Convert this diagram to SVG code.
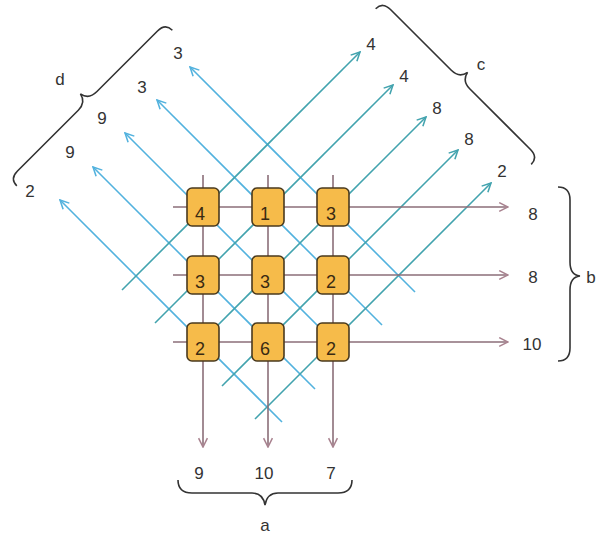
<svg xmlns="http://www.w3.org/2000/svg" width="597" height="537" viewBox="0 0 597 537">
<style>
.lbl{font-family:"Liberation Sans",Arial,sans-serif;font-size:17px;fill:#333;text-anchor:middle}
.num{font-family:"Liberation Sans",Arial,sans-serif;font-size:18px;fill:#3a2a12;text-anchor:middle}
.box{fill:#f6bb4a;stroke:#4a3a1e;stroke-width:1.6}
.hv{stroke:#8b6e78;stroke-width:1.6;fill:none}
.nw{stroke:#52b2de;stroke-width:1.6;fill:none}
.ne{stroke:#42a3ae;stroke-width:1.6;fill:none}
.brace{stroke:#333;stroke-width:1.6;fill:none}
</style>
<defs>
<marker id="mHV" viewBox="0 0 10 10" refX="9" refY="5" markerWidth="11" markerHeight="11" markerUnits="userSpaceOnUse" orient="auto"><path d="M1,1 L9,5 L1,9" fill="none" stroke="#a98390" stroke-width="1.4"/></marker>
<marker id="mNW" viewBox="0 0 10 10" refX="9" refY="5" markerWidth="11" markerHeight="11" markerUnits="userSpaceOnUse" orient="auto"><path d="M1,1 L9,5 L1,9" fill="none" stroke="#52b2de" stroke-width="1.4"/></marker>
<marker id="mNE" viewBox="0 0 10 10" refX="9" refY="5" markerWidth="11" markerHeight="11" markerUnits="userSpaceOnUse" orient="auto"><path d="M1,1 L9,5 L1,9" fill="none" stroke="#42a3ae" stroke-width="1.4"/></marker>
<path id="br" d="M-110,10 Q-110,0 -99,0 L-13,0 Q-2,0 0,-10 Q2,0 13,0 L99,0 Q110,0 110,10"/>
</defs>
<g id="connectors">
<g id="nw-lines">
<line class="nw" x1="415" y1="292" x2="190" y2="67" marker-end="url(#mNW)"/>
<line class="nw" x1="382" y1="325" x2="157" y2="100" marker-end="url(#mNW)"/>
<line class="nw" x1="333" y1="341" x2="125" y2="133" marker-end="url(#mNW)"/>
<line class="nw" x1="315" y1="389" x2="93" y2="167" marker-end="url(#mNW)"/>
<line class="nw" x1="282" y1="422" x2="60" y2="200" marker-end="url(#mNW)"/>
</g>
<g id="ne-lines">
<line class="ne" x1="122" y1="290" x2="360" y2="52" marker-end="url(#mNE)"/>
<line class="ne" x1="155" y1="323" x2="393" y2="85" marker-end="url(#mNE)"/>
<line class="ne" x1="203" y1="340" x2="426" y2="117" marker-end="url(#mNE)"/>
<line class="ne" x1="222" y1="386" x2="458" y2="150" marker-end="url(#mNE)"/>
<line class="ne" x1="255" y1="419" x2="491" y2="183" marker-end="url(#mNE)"/>
</g>
<g id="hv-lines">
<line class="hv" x1="173" y1="207" x2="508" y2="207" marker-end="url(#mHV)"/>
<line class="hv" x1="173" y1="275" x2="508" y2="275" marker-end="url(#mHV)"/>
<line class="hv" x1="173" y1="342" x2="508" y2="342" marker-end="url(#mHV)"/>
<line class="hv" x1="203" y1="175" x2="203" y2="447" marker-end="url(#mHV)"/>
<line class="hv" x1="268" y1="175" x2="268" y2="447" marker-end="url(#mHV)"/>
<line class="hv" x1="333" y1="175" x2="333" y2="447" marker-end="url(#mHV)"/>
</g>
</g>
<g id="n11"><rect class="box" x="187" y="188" width="32" height="38" rx="5"/><text class="num" x="200" y="220">4</text></g>
<g id="n12"><rect class="box" x="252" y="188" width="32" height="38" rx="5"/><text class="num" x="265" y="220">1</text></g>
<g id="n13"><rect class="box" x="317" y="188" width="32" height="38" rx="5"/><text class="num" x="331" y="220">3</text></g>
<g id="n21"><rect class="box" x="187" y="256" width="32" height="38" rx="5"/><text class="num" x="200" y="288">3</text></g>
<g id="n22"><rect class="box" x="252" y="256" width="32" height="38" rx="5"/><text class="num" x="265" y="288">3</text></g>
<g id="n23"><rect class="box" x="317" y="256" width="32" height="38" rx="5"/><text class="num" x="331" y="288">2</text></g>
<g id="n31"><rect class="box" x="187" y="323" width="32" height="38" rx="5"/><text class="num" x="200" y="355">2</text></g>
<g id="n32"><rect class="box" x="252" y="323" width="32" height="38" rx="5"/><text class="num" x="265" y="355">6</text></g>
<g id="n33"><rect class="box" x="317" y="323" width="32" height="38" rx="5"/><text class="num" x="331" y="355">2</text></g>
<g id="labels-d">
<text class="lbl" x="178" y="59">3</text>
<text class="lbl" x="142" y="93">3</text>
<text class="lbl" x="102" y="124">9</text>
<text class="lbl" x="70" y="158">9</text>
<text class="lbl" x="30" y="197">2</text>
<text class="lbl" x="60" y="85">d</text>
<use href="#br" class="brace" transform="translate(87.5,101) rotate(-45)"/>
</g>
<g id="labels-c">
<text class="lbl" x="371" y="50">4</text>
<text class="lbl" x="404" y="82">4</text>
<text class="lbl" x="437" y="114">8</text>
<text class="lbl" x="469" y="145">8</text>
<text class="lbl" x="502" y="177">2</text>
<text class="lbl" x="481" y="70">c</text>
<use href="#br" class="brace" transform="translate(460.5,79.5) rotate(45)"/>
</g>
<g id="labels-b">
<text class="lbl" x="533" y="220">8</text>
<text class="lbl" x="533" y="283">8</text>
<text class="lbl" x="532" y="350">10</text>
<text class="lbl" x="591" y="283">b</text>
<path class="brace" d="M558,187 Q570,187 570,200 L570,262 Q570,275 580,276 Q570,277 570,290 L570,348 Q570,361 558,361"/>
</g>
<g id="labels-a">
<text class="lbl" x="199" y="479">9</text>
<text class="lbl" x="264" y="479">10</text>
<text class="lbl" x="331" y="479">7</text>
<text class="lbl" x="265" y="531">a</text>
<path class="brace" d="M178,480 Q178,493 192,493 L252,493 Q263,493 265,505 Q267,493 278,493 L338,493 Q352,493 352,480"/>
</g>
</svg>
